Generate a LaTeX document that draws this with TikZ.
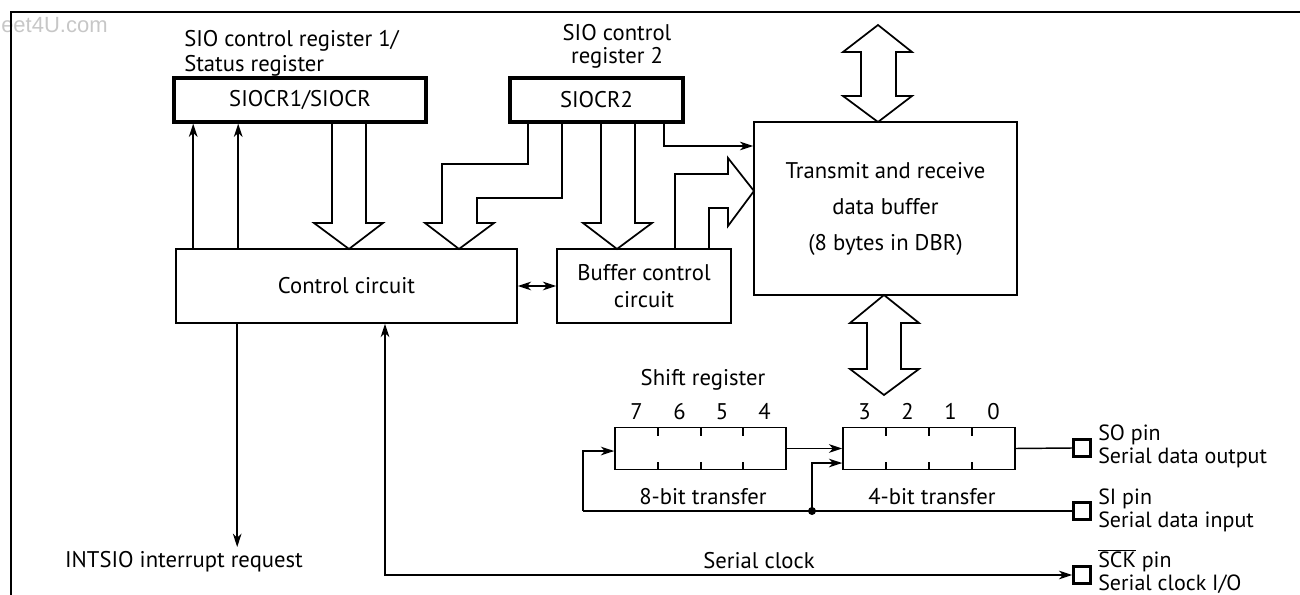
\documentclass[tikz,border=0pt]{standalone}
\usepackage{fontspec}
\setmainfont{PT Sans}
\newfontfamily\wmfont{Liberation Sans}
\usetikzlibrary{arrows.meta,calc}
\newcommand\tightlines{\fontsize{16.5}{16.6}\selectfont\lineskiplimit -100pt\relax}
\tikzset{
  box/.style={draw, line width=1.2pt, inner sep=0pt, align=center},
  regbox/.style={draw, line width=2.4pt, inner sep=0pt},
  pin/.style={draw, line width=2.2pt, inner sep=0pt, minimum size=12.5pt},
  pinlabel/.style={inner sep=0pt, align=left, anchor=base west, font=\tightlines},
  wire/.style={line width=1.1pt},
  arr/.style={wire, -{Stealth[length=10pt,width=6.5pt,inset=3pt]}},
  arrboth/.style={wire, {Stealth[length=10pt,width=6.5pt,inset=3pt]}-{Stealth[length=10pt,width=6.5pt,inset=3pt]}},
  hollow/.style={line width=1.3pt, line join=miter},
  txt/.style={inner sep=0pt},
  px/.style 2 args={minimum width=#1*0.75pt, minimum height=#2*0.75pt},
}
\begin{document}
\begin{tikzpicture}[x=0.75pt,y=-0.75pt, font=\fontsize{17}{20}\selectfont]
\useasboundingbox (0,0) rectangle (1300,595);
% watermark
\node[txt, anchor=base west, text=black!22, font=\wmfont\fontsize{16.5}{16.5}\selectfont] (wm) at (1,33) {eet4U.com};
% frame
\draw[line width=1.8pt] (11,597) -- (11,12) -- (1302,12);

% boxes
\node[regbox, px={252}{44}] (cr1) at (300,100) {SIOCR1/SIOCR};
\node[regbox, px={173}{44}] (cr2) at (596.5,100) {SIOCR2};
\node[box, px={341}{74}] (ctrl) at (346.5,286) {Control circuit};
\node[box, px={174}{74}, font=\fontsize{17}{20.25}\selectfont] (bcc) at (644,286) {Buffer control\\circuit};
\node[box, px={263}{173}, font=\fontsize{17}{27}\selectfont] (dbuf) at (885.5,208.5) {Transmit and receive\\data buffer\\(8 bytes in DBR)};
\node[box, px={171}{42}] (srl) at (700.5,448.5) {};
\node[box, px={172}{42}] (srr) at (929,448.5) {};
\node[pin] (so) at (1082,448) {};
\node[pin] (si) at (1082,511) {};
\node[pin] (sck) at (1082,575) {};

% labels
\node[txt, anchor=base west] (l1a) at (184,47) {SIO control register 1/};
\node[txt, anchor=base west] (l1b) at (184,72) {Status register};
\node[txt, anchor=base] (l2a) at (617,41) {SIO control};
\node[txt, anchor=base] (l2b) at (617,64) {register 2};
\node[txt, anchor=base] (lsr) at (703,386) {Shift register};
\node[txt, anchor=base] (l8) at (703,504) {8-bit transfer};
\node[txt, anchor=base] (l4) at (932,504) {4-bit transfer};
\node[txt, anchor=base] (lsc) at (759,568) {Serial clock};
\node[txt, anchor=base] (lint) at (184,567) {INTSIO interrupt request};
\node[pinlabel] (sol) at (1098,463) {SO pin\\Serial data output};
\node[pinlabel] (sil) at (1098,527) {SI pin\\Serial data input};
\node[pinlabel] (sckl) at (1098,590) {$\overline{\mbox{SCK}}$ pin\\Serial clock I/O};

% bit numbers and dividers
\foreach \n/\x in {7/636.5,6/679.5,5/722,4/764.5,3/864.5,2/907.5,1/950.5,0/993.5}
  \node[txt, anchor=base] (b\n) at (\x,419) {\n};
\foreach \x in {658,701,743,886,929,972} {
  \draw[wire] (\x,427.5) -- (\x,435.5);
  \draw[wire] (\x,469.5) -- (\x,461.5);
}

% thin connectors
\draw[arr] ([xshift=13.5pt]ctrl.north west) coordinate (u1) -- (u1 |- cr1.south);
\draw[arr] ([xshift=47.25pt]ctrl.north west) coordinate (u2) -- (u2 |- cr1.south);
\draw[arr] ([xshift=46.5pt]ctrl.south west) coordinate (d1) -- (d1 |- 0,547);
\coordinate (c664) at (664,146);
\draw[arr] (cr2.south -| c664) -- (c664) -- (c664 -| dbuf.west);
\draw[arrboth] (ctrl.east) -- (bcc.west);
\coordinate (scx) at (385,575);
\draw[arrboth] (ctrl.south -| scx) -- (scx) -- (sck.west);
\draw[arr] (srl.east) -- (srr.west);
\coordinate (j) at (812,511);
\coordinate (lp) at (583,511);
\draw[wire] (si.west) -- (j) -- (lp);
\draw[arr] (lp) |- ([yshift=-1.9pt]srl.west);
\draw[arr] (j) |- ([yshift=-10.9pt]srr.west);
\fill (j) circle (3pt);
\draw[wire] (srr.east) -- (so.west);

% hollow bus arrows
\draw[hollow] (332,122) -- (332,223) -- (314,223) -- (349,249) -- (383,223) -- (366,223) -- (366,122);
\draw[hollow] (528,122) -- (528,164) -- (442,164) -- (442,223) -- (425,223) -- (459,249) -- (494,223) -- (477,223) -- (477,198) -- (562,198) -- (562,122);
\draw[hollow] (601,122) -- (601,223) -- (583,223) -- (617,249) -- (652,223) -- (635,223) -- (635,122);
\draw[hollow] (675,249) -- (675,174) -- (728,174) -- (728,158) -- (754,191) -- (728,226) -- (728,208) -- (709,208) -- (709,249);
\draw[hollow] (878,25) -- (912,52) -- (896,52) -- (896,96) -- (912,96) -- (878,122) -- (843,96) -- (861,96) -- (861,52) -- (843,52) -- cycle;
\draw[hollow] (884,295) -- (919,323) -- (901,323) -- (901,369) -- (919,369) -- (884,395) -- (850,369) -- (867,369) -- (867,323) -- (850,323) -- cycle;
\end{tikzpicture}
\end{document}
